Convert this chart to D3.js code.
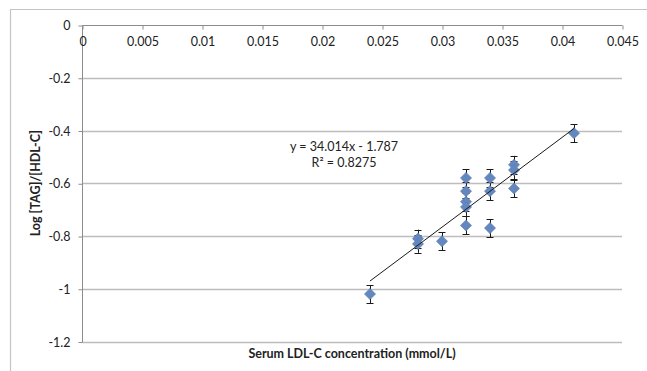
<!DOCTYPE html>
<html>
<head>
<meta charset="utf-8">
<script src="https://cdn.jsdelivr.net/npm/d3@7"></script>
<style>
  html, body { margin: 0; padding: 0; background: #ffffff; }
  svg { display: block; }
  text { font-family: Lato, "Open Sans", sans-serif; fill: #222; }
</style>
</head>
<body>
<svg id="chart" width="647" height="371"></svg>
<script>
// ---- data ----
const xValues = [0.024, 0.028, 0.028, 0.030, 0.032, 0.032, 0.032, 0.032, 0.032, 0.034, 0.034, 0.034, 0.036, 0.036, 0.036, 0.041];
const yValues = [-1.02, -0.81, -0.83, -0.82, -0.58, -0.63, -0.67, -0.69, -0.76, -0.58, -0.63, -0.77, -0.53, -0.55, -0.62, -0.41];
const yErrors = [0.034, 0.034, 0.034, 0.034, 0.034, 0.034, 0.034, 0.034, 0.034, 0.034, 0.034, 0.034, 0.034, 0.034, 0.034, 0.034];
const xTicks = [0, 0.005, 0.01, 0.015, 0.02, 0.025, 0.03, 0.035, 0.04, 0.045];
const xTickLabels = ["0", "0.005", "0.01", "0.015", "0.02", "0.025", "0.03", "0.035", "0.04", "0.045"];
const yTicks = [0, -0.2, -0.4, -0.6, -0.8, -1, -1.2];
const yTickLabels = ["0", "-0.2", "-0.4", "-0.6", "-0.8", "-1", "-1.2"];
const trendSlope = 34.014;
const trendIntercept = -1.787;
const trendRange = [0.024, 0.041];
const equationLines = ["y = 34.014x - 1.787", "R² = 0.8275"];
const xTitle = "Serum LDL-C concentration (mmol/L)";
const yTitle = "Log [TAG]/[HDL-C]";

// ---- layout ----
const svg = d3.select("#chart");
const pL = 82, pR = 622, pT = 25, pB = 341.5;
const x = d3.scaleLinear().domain([0, 0.045]).range([pL, pR]);
const y = d3.scaleLinear().domain([-1.2, 0]).range([pB, pT]);

// outer chart border (partially visible)
svg.append("path")
  .attr("d", `M10.5,371 L10.5,9.5 L647,9.5`)
  .attr("fill", "none").attr("stroke", "#c4c4c4").attr("stroke-width", 1.2);

// gridlines
svg.append("g").selectAll("line")
  .data(yTicks.filter(d => d !== 0))
  .join("line")
  .attr("x1", pL).attr("x2", pR)
  .attr("y1", d => Math.round(y(d)) + 0.5).attr("y2", d => Math.round(y(d)) + 0.5)
  .attr("stroke", "#bdbdbd").attr("stroke-width", 1.3);

// y axis
const yAxis = d3.axisLeft(y).tickValues(yTicks)
  .tickFormat((d, i) => yTickLabels[i]).tickSize(4).tickPadding(8);
const gy = svg.append("g").attr("transform", `translate(${pL + 0.5},0.5)`).call(yAxis);
gy.selectAll("path, line").attr("stroke", "#8c8c8c");
gy.select(".domain").attr("d", `M0,${y(0)}V${pB}`);
gy.selectAll("text").style("font-size", "12.5px").attr("fill", "#222");

// x axis at y = 0
const xAxis = d3.axisBottom(x).tickValues(xTicks)
  .tickFormat((d, i) => xTickLabels[i]).tickSize(4).tickPadding(8);
const gx = svg.append("g").attr("transform", `translate(0.5,${Math.round(y(0)) + 0.5})`).call(xAxis);
gx.selectAll("path, line").attr("stroke", "#8c8c8c");
gx.select(".domain").attr("d", `M${pL},0H${pR}`);
gx.selectAll("text").style("font-size", "12.5px").attr("fill", "#222");

// error bars
const pts = xValues.map((v, i) => ({ x: v, y: yValues[i], e: yErrors[i] }));
const eb = svg.append("g").attr("stroke", "#1a1a1a").attr("stroke-width", 1);
eb.selectAll("line.v").data(pts).join("line").attr("class", "v")
  .attr("x1", d => Math.round(x(d.x)) + 0.5).attr("x2", d => Math.round(x(d.x)) + 0.5)
  .attr("y1", d => y(d.y + d.e)).attr("y2", d => y(d.y - d.e));
eb.selectAll("line.t").data(pts).join("line").attr("class", "t")
  .attr("x1", d => x(d.x) - 3.5).attr("x2", d => x(d.x) + 3.5)
  .attr("y1", d => Math.round(y(d.y + d.e)) + 0.5).attr("y2", d => Math.round(y(d.y + d.e)) + 0.5);
eb.selectAll("line.b").data(pts).join("line").attr("class", "b")
  .attr("x1", d => x(d.x) - 3.5).attr("x2", d => x(d.x) + 3.5)
  .attr("y1", d => Math.round(y(d.y - d.e)) + 0.5).attr("y2", d => Math.round(y(d.y - d.e)) + 0.5);

// markers (diamonds)
const diamond = d3.symbol().type(d3.symbolSquare).size(62);
svg.append("g").selectAll("path").data(pts).join("path")
  .attr("d", diamond)
  .attr("transform", d => `translate(${x(d.x)},${y(d.y)}) rotate(45)`)
  .attr("fill", "#6488bd").attr("stroke", "#5a7fb6").attr("stroke-width", 0.6);

// trendline
svg.append("line")
  .attr("x1", x(trendRange[0])).attr("y1", y(trendSlope * trendRange[0] + trendIntercept))
  .attr("x2", x(trendRange[1])).attr("y2", y(trendSlope * trendRange[1] + trendIntercept))
  .attr("stroke", "#1a1a1a").attr("stroke-width", 1);

// equation
svg.append("g").selectAll("text").data(equationLines).join("text")
  .attr("x", 344).attr("y", (d, i) => 150.5 + i * 16.5)
  .attr("text-anchor", "middle").style("font-size", "12.5px")
  .text(d => d);

// axis titles
svg.append("text")
  .attr("x", (pL + pR) / 2).attr("y", 357.5)
  .attr("text-anchor", "middle").style("font-size", "12.5px").style("font-weight", "bold")
  .text(xTitle);
svg.append("text")
  .attr("transform", `translate(40,${(pT + pB) / 2}) rotate(-90)`)
  .attr("text-anchor", "middle").style("font-size", "12.5px").style("font-weight", "bold")
  .text(yTitle);
</script>
</body>
</html>
